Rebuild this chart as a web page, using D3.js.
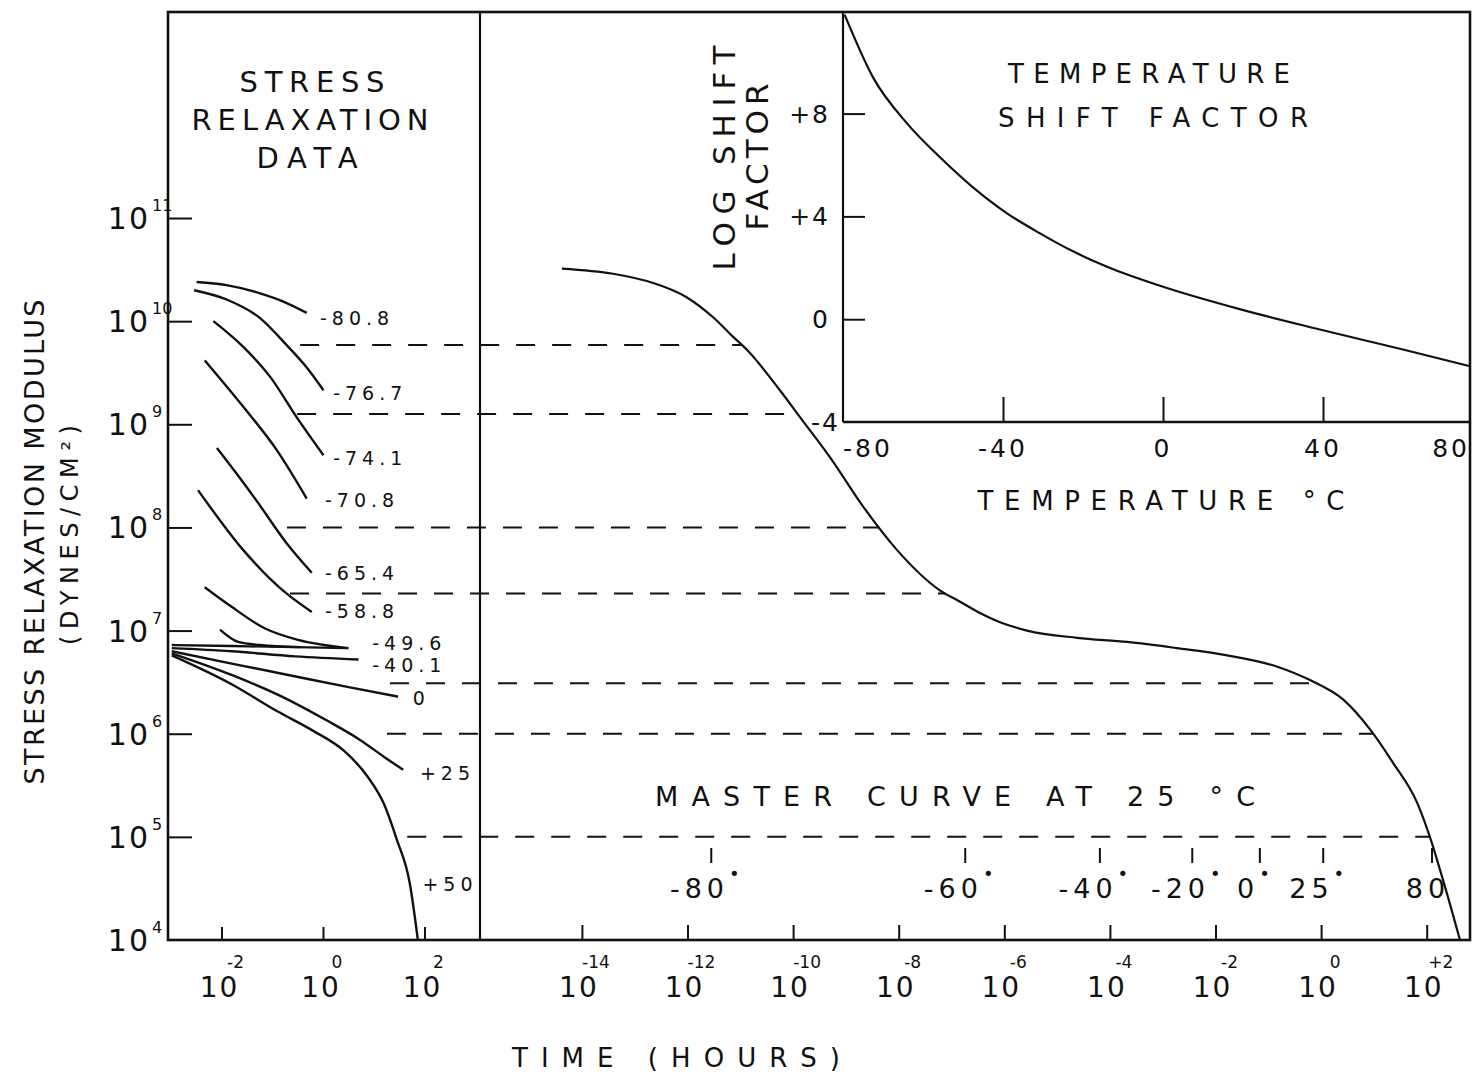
<!DOCTYPE html>
<html><head><meta charset="utf-8">
<script src="https://cdn.jsdelivr.net/npm/d3@7"></script>
<style>
body{margin:0;background:#fff;}
svg{display:block;}
text{font-family:"DejaVu Sans",sans-serif;fill:#111;}
</style></head><body>
<svg id="c" width="1474" height="1076"></svg>
<script>
// ---------------- DATA (log10 units) ----------------
const modulusExponents = [4,5,6,7,8,9,10,11];
const leftTimeExponents = [-2,0,2];
const leftTimeLabels = ["-2","0","2"];
const masterTimeExponents = [-14,-12,-10,-8,-6,-4,-2,0,2];
const masterTimeLabels = ["-14","-12","-10","-8","-6","-4","-2","0","+2"];
const insetTempTicks = [-80,-40,0,40,80];
const insetTempLabels = ["-80","-40","0","40","80"];
const insetShiftTicks = [-4,0,4,8];
const insetShiftLabels = ["-4","0","+4","+8"];

// stress relaxation data: [log t (h), log E]
const relax_m80_8 = [[-2.49,10.38],[-1.90,10.35],[-1.24,10.27],[-0.78,10.19],[-0.32,10.08]];
const relax_m76_7 = [[-2.54,10.30],[-1.90,10.21],[-1.24,10.03],[-0.72,9.77],[-0.32,9.55],[0.01,9.33]];
const relax_m74_1 = [[-2.16,10.00],[-1.57,9.75],[-1.04,9.46],[-0.52,9.07],[0.01,8.70]];
const relax_m70_8 = [[-2.33,9.62],[-1.57,9.17],[-0.91,8.75],[-0.32,8.28]];
const relax_m65_4 = [[-2.09,8.77],[-1.70,8.52],[-1.31,8.26],[-0.72,7.85],[-0.22,7.56]];
const relax_m58_8 = [[-2.46,8.36],[-1.57,7.78],[-0.72,7.36],[-0.22,7.18]];
const relax_m49_6 = [[-2.33,7.42],[-1.80,7.23],[-1.14,7.02],[-0.49,6.91],[0.50,6.83]];
const relax_u1    = [[-2.03,7.01],[-1.67,6.89],[-1.24,6.86],[-0.45,6.84]];
const relax_u2    = [[-2.98,6.86],[-1.80,6.85],[-0.55,6.84],[0.50,6.83]];
const relax_m40_1 = [[-2.98,6.83],[-1.80,6.80],[-0.55,6.75],[0.70,6.72]];
const relax_p0    = [[-2.98,6.80],[-1.80,6.68],[-0.49,6.55],[0.53,6.45],[1.48,6.36]];
const relax_p25   = [[-2.98,6.78],[-1.80,6.57],[-0.81,6.36],[0.07,6.13],[0.73,5.94],[1.22,5.77],[1.58,5.65]];
const relax_p50   = [[-2.98,6.76],[-1.80,6.48],[-0.91,6.22],[-0.20,6.03],[0.40,5.84],[0.87,5.59],[1.20,5.32],[1.45,4.98],[1.71,4.55],[1.87,4.00]];

const relaxSeries = [relax_m80_8,relax_m76_7,relax_m74_1,relax_m70_8,relax_m65_4,relax_m58_8,relax_m49_6,relax_u1,relax_u2,relax_m40_1,relax_p0,relax_p25,relax_p50];
const relaxLabels = ["-80.8","-76.7","-74.1","-70.8","-65.4","-58.8","-49.6","","","-40.1","0","+25","+50"];
// label anchor (log t, log E) for each label
const relaxLabelT = [-0.06,0.20,0.20,0.04,0.04,0.04,0.97,null,null,0.97,1.77,1.91,1.96];
const relaxLabelE = [10.03,9.30,8.67,8.27,7.56,7.19,6.88,null,null,6.67,6.35,5.62,4.54];

// master curve at 25 C: [log t, log E]
const masterCurve = [[-14.38,10.51],[-13.41,10.46],[-12.65,10.37],[-12.01,10.23],[-11.52,10.04],[-11.14,9.85],[-10.87,9.72],[-10.25,9.33],[-9.87,9.07],[-9.30,8.68],[-8.67,8.20],[-8.03,7.78],[-7.22,7.39],[-6.84,7.28],[-6.46,7.17],[-6.08,7.08],[-5.57,7.00],[-4.62,6.93],[-3.67,6.89],[-2.73,6.83],[-1.78,6.76],[-0.83,6.65],[-0.21,6.52],[0.42,6.33],[0.93,6.04],[1.36,5.72],[1.82,5.33],[2.06,5.00],[2.31,4.58],[2.63,4.00]];

// dashed connector levels (log E) and their start times in the data panel (log t)
const dashLevels = [9.77,9.10,8.00,7.36,6.49,6.00,5.00];
const dashStartTimes = [-0.45,-0.51,-0.71,-0.65,1.32,1.26,1.66];

// temperature markers on master curve time axis
const markerTemps = ["-80","-60","-40","-20","0","25","80"];
const markerLogTimes = [-11.55,-6.74,-4.19,-2.44,-1.16,0.04,2.10];

// temperature shift factor: [T (C), log aT]
const shiftCurve = [[-79.6,11.85],[-72.5,9.41],[-64,7.62],[-55.75,6.30],[-47.5,5.13],[-39,4.12],[-30.75,3.34],[-22.5,2.64],[-14,2.04],[-0.75,1.30],[19.4,0.38],[39.2,-0.40],[60,-1.18],[76.75,-1.83]];

// ---------------- DRAWING ----------------
const svg = d3.select("#c");
const INK = "#111";
const L = 168, R = 1470, T = 12, B = 940, SPLIT = 480;
const IL = 843, IB = 422;

const y = d3.scaleLinear().domain([4,13]).range([B, B - 9*103.14]);
const xL = d3.scaleLinear().domain([-3.054,3.094]).range([L, SPLIT]);
const xM = d3.scaleLinear().domain([-15.93,2.82]).range([SPLIT, R]);
const xI = d3.scaleLinear().domain([-80,80]).range([IL, IL+640]);
const yI = d3.scaleLinear().domain([-4,12]).range([IB, IB-16*25.7]);

function txt(g, x, yb, s, size, o={}) {
  const t = g.append("text").attr("x",x).attr("y",yb).attr("font-size",size)
    .attr("text-anchor", o.anchor||"middle").text(s);
  if (o.len) t.attr("textLength",o.len).attr("lengthAdjust","spacing");
  if (o.ls) t.attr("letter-spacing",o.ls);
  if (o.rot) t.attr("transform",`rotate(${o.rot},${x},${yb})`);
  return t;
}

// frame
svg.append("rect").attr("x",L).attr("y",T).attr("width",R-L).attr("height",B-T)
  .attr("fill","none").attr("stroke",INK).attr("stroke-width",2.6);
svg.append("line").attr("x1",SPLIT).attr("x2",SPLIT).attr("y1",T).attr("y2",B).attr("stroke",INK).attr("stroke-width",2.2);
svg.append("line").attr("x1",IL).attr("x2",IL).attr("y1",T).attr("y2",IB).attr("stroke",INK).attr("stroke-width",2.2);
svg.append("line").attr("x1",IL).attr("x2",R).attr("y1",IB).attr("y2",IB).attr("stroke",INK).attr("stroke-width",2.4);

function styleAxis(g){ g.select(".domain").remove(); g.selectAll(".tick line").attr("stroke",INK).attr("stroke-width",2); g.selectAll(".tick text").remove(); }

// axes ticks
svg.append("g").attr("transform",`translate(${L},0)`)
  .call(d3.axisRight(y).tickValues(modulusExponents.filter(v=>v>4)).tickSize(24).tickFormat(()=>"")).call(styleAxis);
svg.append("g").attr("transform",`translate(0,${B})`)
  .call(d3.axisTop(xL).tickValues(leftTimeExponents).tickSize(13).tickFormat(()=>"")).call(styleAxis);
svg.append("g").attr("transform",`translate(0,${B})`)
  .call(d3.axisTop(xM).tickValues(masterTimeExponents).tickSize(15).tickFormat(()=>"")).call(styleAxis);
svg.append("g").attr("transform",`translate(${IL},0)`)
  .call(d3.axisRight(yI).tickValues(insetShiftTicks.filter(v=>v>-4)).tickSize(22).tickFormat(()=>"")).call(styleAxis);
svg.append("g").attr("transform",`translate(0,${IB})`)
  .call(d3.axisTop(xI).tickValues(insetTempTicks.filter(v=>v>-80&&v<80)).tickSize(25).tickFormat(()=>"")).call(styleAxis);

// y tick labels
const gy = svg.append("g");
modulusExponents.forEach(e=>{
  txt(gy, 150, y(e)+11, "10", 30, {anchor:"end", ls:2});
  txt(gy, 152, y(e)-7, String(e), 16, {anchor:"start"});
});
// x tick labels
const gx = svg.append("g");
leftTimeExponents.forEach((e,i)=>{
  txt(gx, xL(e)-2, 997, "10", 28, {ls:2});
  txt(gx, xL(e)+14, 968, leftTimeLabels[i], 17);
});
masterTimeExponents.forEach((e,i)=>{
  txt(gx, xM(e)-3, 997, "10", 28, {ls:2});
  txt(gx, xM(e)+14, 968, masterTimeLabels[i], 17);
});

// axis titles
txt(svg, 44, 542, "STRESS RELAXATION MODULUS", 27, {len:485, rot:-90});
txt(svg, 78, 535, "(DYNES/CM²)", 24, {len:220, rot:-90});
txt(svg, 676, 1067, "TIME   (HOURS)", 26, {len:328});

// panel titles
txt(svg, 312, 92, "STRESS", 29, {len:145});
txt(svg, 310, 130, "RELAXATION", 29, {len:237});
txt(svg, 307, 168, "DATA", 29, {len:101});
txt(svg, 1149, 83, "TEMPERATURE", 26, {len:282});
txt(svg, 1153, 127, "SHIFT  FACTOR", 26, {len:310});
txt(svg, 735, 158, "LOG SHIFT", 31, {len:225, rot:-90});
txt(svg, 768, 157, "FACTOR", 31, {len:147, rot:-90});
txt(svg, 1161, 510, "TEMPERATURE  °C", 26, {len:367});
txt(svg, 955, 806, "MASTER  CURVE  AT  25 °C", 27, {len:600});

// inset tick labels
insetShiftTicks.forEach((v,i)=>{
  txt(svg, v===-4?840:830, yI(v)+9, insetShiftLabels[i], 25, {anchor:"end", ls:2});
});
insetTempTicks.forEach((v,i)=>{
  const a = v===-80?"start":(v===80?"end":"middle");
  const xx = v===-80?IL:(v===80?R:xI(v));
  txt(svg, xx, 457, insetTempLabels[i], 25, {anchor:a, ls:3});
});

// curves
const lineL = d3.line().x(d=>xL(d[0])).y(d=>y(d[1])).curve(d3.curveMonotoneX);
const lineM = d3.line().x(d=>xM(d[0])).y(d=>y(d[1])).curve(d3.curveMonotoneX);
const lineI = d3.line().x(d=>xI(d[0])).y(d=>yI(d[1])).curve(d3.curveMonotoneX);

svg.append("g").selectAll("path").data(relaxSeries).join("path")
  .attr("d",lineL).attr("fill","none").attr("stroke",INK).attr("stroke-width",2.4);
relaxLabels.forEach((s,i)=>{
  if(!s) return;
  txt(svg, xL(relaxLabelT[i]), y(relaxLabelE[i])+7, s, 19, {anchor:"start", ls:5});
});

svg.append("path").datum(masterCurve).attr("d",lineM).attr("fill","none").attr("stroke",INK).attr("stroke-width",2.2);
svg.append("path").datum(shiftCurve).attr("d",lineI).attr("fill","none").attr("stroke",INK).attr("stroke-width",2.2);

// dashed connectors: from data panel to the master curve
function masterTimeAt(level){
  for(let i=0;i<masterCurve.length-1;i++){
    const a=masterCurve[i], b=masterCurve[i+1];
    if((a[1]-level)*(b[1]-level)<=0){ return a[0]+(level-a[1])*(b[0]-a[0])/(b[1]-a[1]); }
  }
  return masterCurve[masterCurve.length-1][0];
}
dashLevels.forEach((lv,i)=>{
  svg.append("line").attr("x1",xL(dashStartTimes[i])).attr("x2",xM(masterTimeAt(lv)))
    .attr("y1",y(lv)).attr("y2",y(lv)).attr("stroke",INK).attr("stroke-width",2)
    .attr("stroke-dasharray","19 17");
});

// temperature markers
markerTemps.forEach((s,i)=>{
  const xx = xM(markerLogTimes[i]);
  svg.append("line").attr("x1",xx).attr("x2",xx).attr("y1",848).attr("y2",863).attr("stroke",INK).attr("stroke-width",2);
  const t = txt(svg, xx-4, 898, s, 27, {ls:5});
  if(s!=="80") t.append("tspan").attr("dy",-18).attr("font-size",18).text("•");
});
</script>
</body></html>
